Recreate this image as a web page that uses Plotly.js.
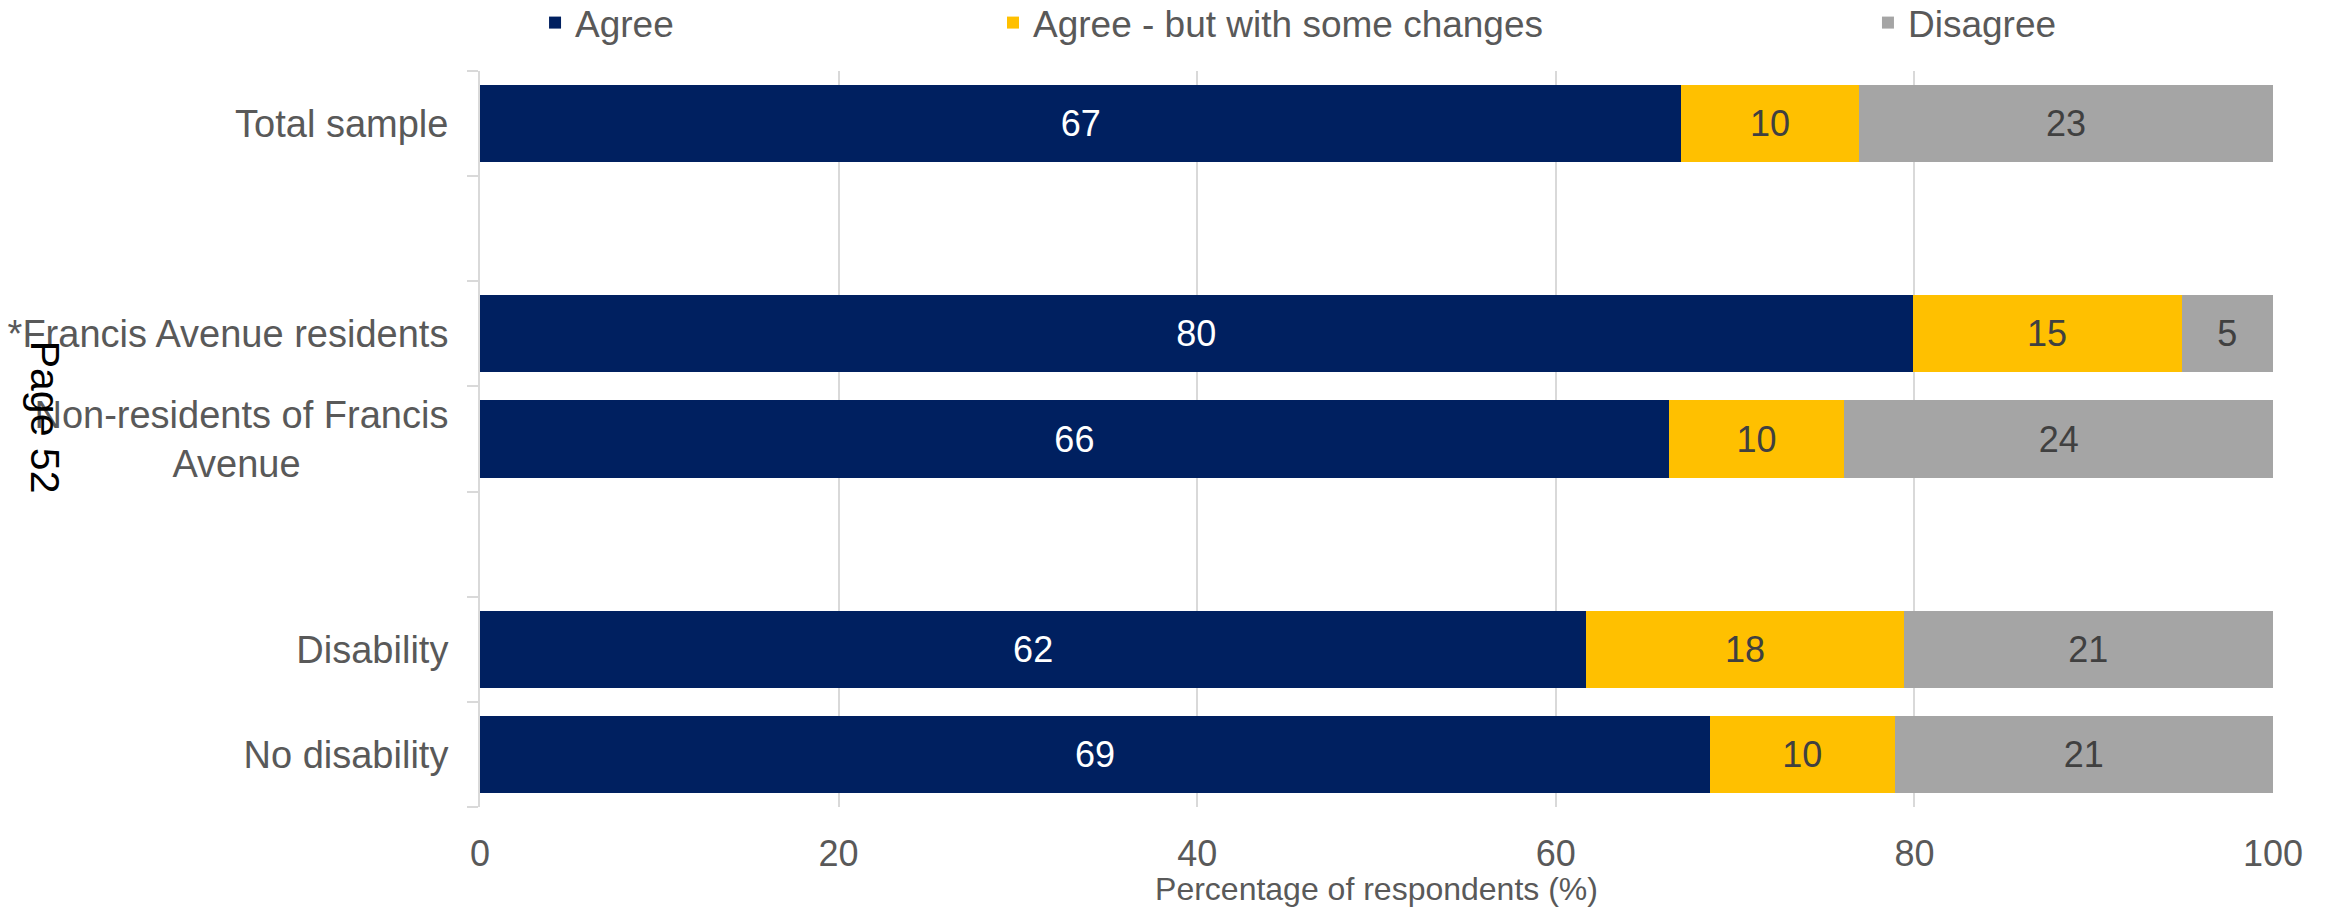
<!DOCTYPE html>
<html>
<head>
<meta charset="utf-8">
<script src="https://cdn.plot.ly/plotly-3.0.1.min.js"></script>
<style>html,body{margin:0;padding:0;background:#fff;}#chart{width:2334px;height:907px;}</style>
</head>
<body>
<div id="chart"></div>
<script>
// Categories, top to bottom (blank entries are spacer rows)
const categories = ["Total sample", " ", "*Francis Avenue residents", "Non-residents of Francis Avenue", "  ", "Disability", "No disability"];
const tickLabels = ["Total sample", " ", "*Francis Avenue residents", "Non-residents of Francis<br>Avenue" + "\u00a0".repeat(14), "  ", "Disability", "No disability"];
const agree        = [67.0, null, 79.9, 66.3, null, 61.7, 68.6];
const agreeChanges = [9.9,  null, 15.0,  9.8, null, 17.7, 10.3];
const disagree     = [23.1, null,  5.1, 23.9, null, 20.6, 21.1];
const seriesNames = ["Agree", "Agree - but with some changes", "Disagree"];
const xTicks = [0, 20, 40, 60, 80, 100];

const FONT = "Liberation Sans, Arial, sans-serif";
const GREY = "#595959";

function barTrace(vals, name, color, txtColor, legendId) {
  return {
    type: "bar", orientation: "h", name: name,
    y: categories, x: vals,
    marker: {color: color},
    text: vals.map(v => v == null ? "" : String(Math.round(v))),
    textposition: "inside", insidetextanchor: "middle",
    constraintext: "none",
    textfont: {family: FONT, size: 36, color: txtColor},
    hoverinfo: "none",
    legend: legendId
  };
}

const data = [
  barTrace(agree, seriesNames[0], "#002060", "#ffffff", "legend"),
  barTrace(agreeChanges, seriesNames[1], "#FFC000", "#404040", "legend2"),
  barTrace(disagree, seriesNames[2], "#A5A5A5", "#404040", "legend3")
];

const legendBase = {orientation: "h", yref: "container", yanchor: "middle", y: 0.9746, xanchor: "left",
  font: {family: FONT, size: 37, color: GREY}, bgcolor: "rgba(0,0,0,0)", borderwidth: 0};

const layout = {
  width: 2334, height: 907,
  margin: {l: 480, r: 61, t: 71, b: 100},
  paper_bgcolor: "#ffffff", plot_bgcolor: "#ffffff",
  font: {family: FONT, color: GREY},
  barmode: "stack",
  bargap: 0.267,
  showlegend: true,
  legend: Object.assign({}, legendBase, {x: 0.0307}),
  legend2: Object.assign({}, legendBase, {x: 0.2861}),
  legend3: Object.assign({}, legendBase, {x: 0.7741}),
  xaxis: {
    range: [0, 100], tickvals: xTicks, ticktext: xTicks.map(String),
    showgrid: true, gridcolor: "#d9d9d9", gridwidth: 2, zeroline: false,
    showline: false, ticks: "", ticklabelstandoff: 22,
    tickfont: {family: FONT, size: 36, color: GREY},
    title: {text: "Percentage of respondents (%)", font: {family: FONT, size: 32, color: GREY}, standoff: 6},
    fixedrange: true
  },
  yaxis: {
    type: "category", categoryorder: "array", categoryarray: categories,
    tickvals: categories, ticktext: tickLabels,
    autorange: "reversed",
    showgrid: false, zeroline: false,
    showline: true, linecolor: "#d9d9d9", linewidth: 2,
    ticks: "outside", tickson: "boundaries", ticklen: 11, tickwidth: 2, tickcolor: "#d9d9d9",
    ticklabelstandoff: 22,
    tickfont: {family: FONT, size: 38, color: GREY},
    fixedrange: true
  },
  annotations: [{
    text: "Page 52", textangle: 90, showarrow: false,
    xref: "paper", yref: "paper", x: -0.2425, y: 0.53,
    xanchor: "center", yanchor: "middle",
    font: {family: FONT, size: 41, color: "#000000"}
  }]
};

Plotly.newPlot("chart", data, layout, {displayModeBar: false, staticPlot: true});
</script>
</body>
</html>
